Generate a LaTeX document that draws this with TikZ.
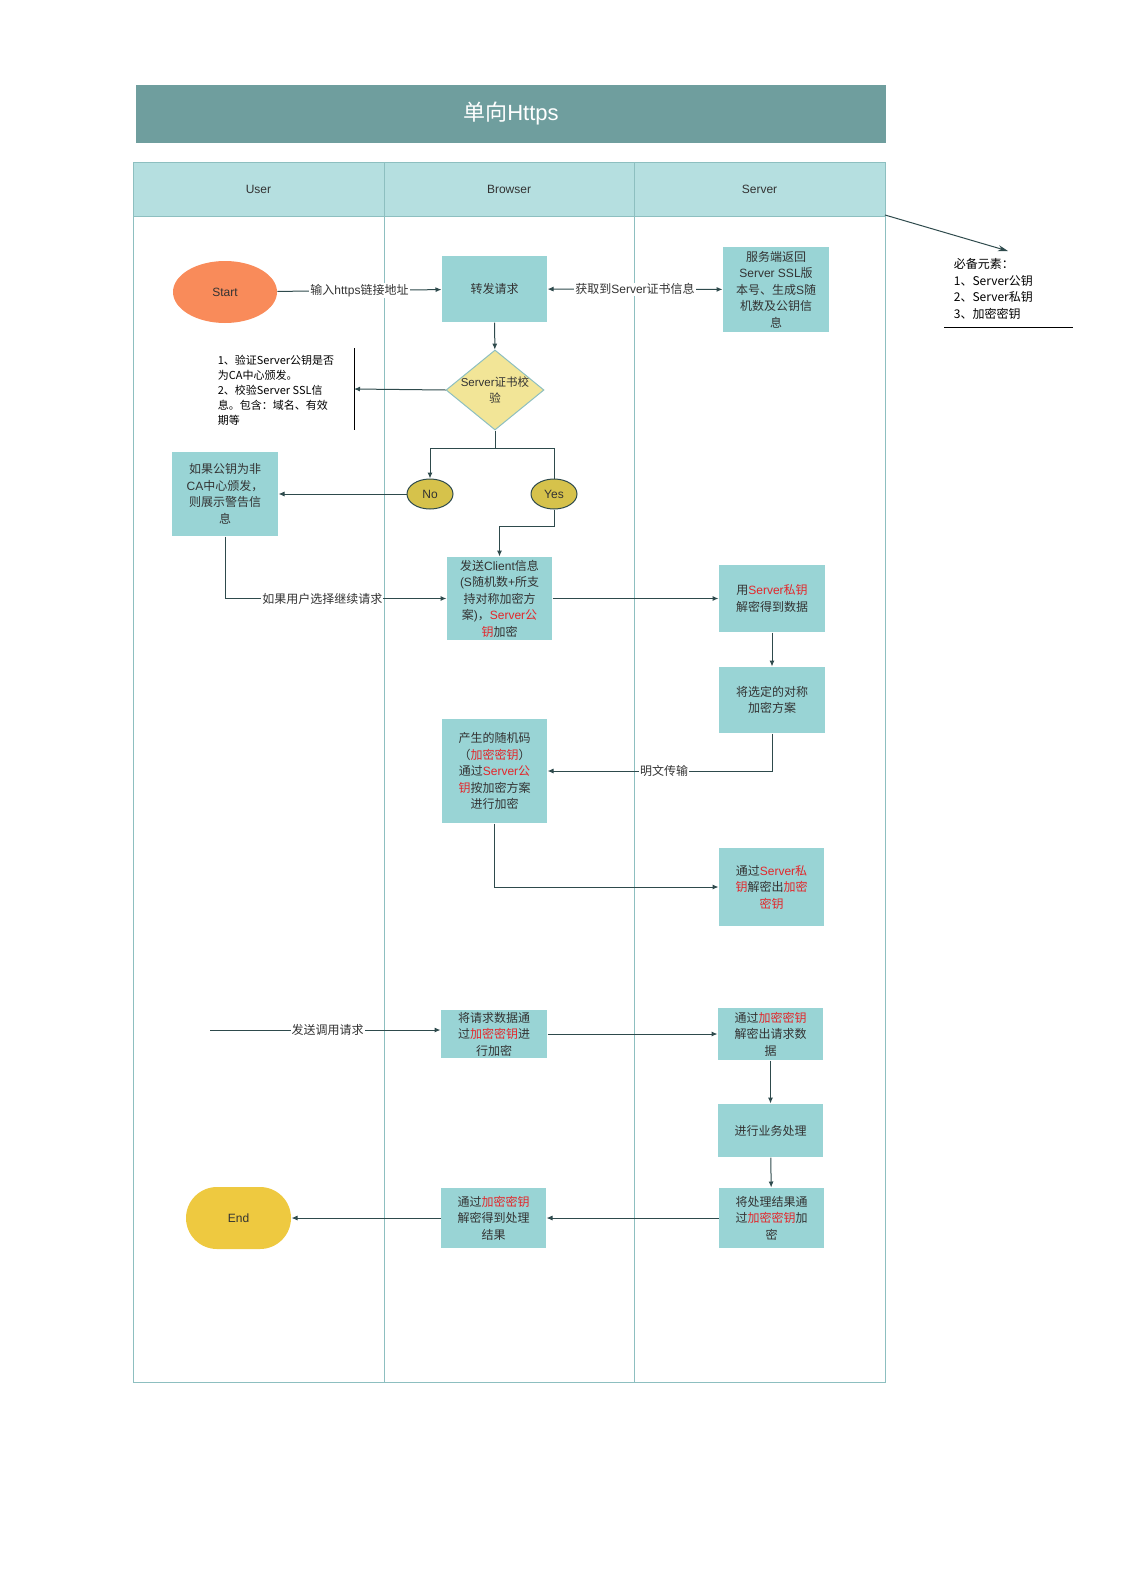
\documentclass[tikz,border=0pt]{standalone}
\usepackage{fontspec}
\setmainfont{Liberation Sans}
\newfontfamily\latinfont{Liberation Sans}
\newfontfamily\cjkfont{Noto Sans CJK SC}
\usepackage{tikz}
\usetikzlibrary{arrows.meta,positioning,shapes.geometric}
\definecolor{titlebar}{HTML}{6F9E9E}
\definecolor{lanehead}{HTML}{B5DFE0}
\definecolor{laneline}{HTML}{8DBFC0}
\definecolor{boxfill}{HTML}{99D4D5}
\definecolor{wire}{HTML}{2E4A4C}
\definecolor{txt}{HTML}{333333}
\definecolor{keyred}{HTML}{E3262A}
\definecolor{startfill}{HTML}{F98B5A}
\definecolor{endfill}{HTML}{EEC940}
\definecolor{checkfill}{HTML}{F2E597}
\definecolor{choicefill}{HTML}{D6C24B}
\newcommand{\keyhl}[1]{\textcolor{keyred}{#1}}
% switch to the CJK font for Chinese characters
\XeTeXinterchartokenstate=1
\newXeTeXintercharclass\cjkclass
\makeatletter
\count@="3000 \loop\XeTeXcharclass\count@=\cjkclass\advance\count@ 1 \ifnum\count@<"3040 \repeat
\count@="4E00 \loop\XeTeXcharclass\count@=\cjkclass\advance\count@ 1 \ifnum\count@<"A000 \repeat
\count@="FF00 \loop\XeTeXcharclass\count@=\cjkclass\advance\count@ 1 \ifnum\count@<"FFF0 \repeat
\makeatother
\XeTeXinterchartoks 0 \cjkclass = {\cjkfont}
\XeTeXinterchartoks 4095 \cjkclass = {\cjkfont}
\XeTeXinterchartoks \cjkclass 0 = {\latinfont}
\XeTeXinterchartoks 4095 0 = {\latinfont}
\newcommand{\plaincjk}{\XeTeXinterchartokenstate=0\relax\cjkfont}

\begin{document}
\begin{tikzpicture}[x=1pt,y=-1pt,>={Latex[length=6pt,width=5pt]},line width=1pt,
  font=\fontsize{12}{16.5}\selectfont,text=txt]
\tikzstyle{box}=[fill=boxfill, align=center, inner sep=1pt, minimum width=105pt]
\tikzstyle{wirec}=[draw=wire, ->]
\tikzstyle{lbl}=[fill=white, inner sep=1pt]
\tikzstyle{note}=[align=left, anchor=north west, text=black]
\useasboundingbox (0,0) rectangle (1123,1587);
% swimlanes
\fill[titlebar] (136,85) rectangle (886,143);
\node[text=white, font=\fontsize{22}{26}\selectfont] (title) at (511,114) {单向Https};
\fill[lanehead] (133,162) rectangle (885,216);
\draw[laneline] (133,162) rectangle (885,1382);
\draw[laneline] (133,216) -- (885,216);
\draw[laneline] (384,162) -- (384,1382);
\draw[laneline] (634,162) -- (634,1382);
\node (user) at (258.5,189) {User};
\node (browser) at (509,189) {Browser};
\node (server) at (759.5,189) {Server};
% nodes
\node[ellipse, fill=startfill, minimum width=104pt, minimum height=62pt] (start) at (225,292) {Start};
\node[box, minimum height=66pt] (fwd) at (494.5,289) {转发请求};
\node[box, minimum width=106pt, minimum height=85pt] (srv) at (776,289.5) {服务端返回\\Server SSL版\\本号、生成S随\\机数及公钥信\\息};
\node[diamond, draw=laneline, fill=checkfill, minimum width=98pt, minimum height=80pt, inner sep=0pt] (check) at (495,390) {};
\node[align=center, font=\fontsize{11.5}{15.5}\selectfont] at (check) {Server证书校\\验};
\node[note, font=\fontsize{11}{15}\selectfont\plaincjk] (cond) at (214,351) {1、验证Server公钥是否\\为CA中心颁发。\\2、校验Server SSL信\\息。包含：域名、有效\\期等};
\coordinate (brk) at (354,389);
\node[ellipse, draw=wire, fill=choicefill, minimum width=46pt, minimum height=30pt, inner sep=0pt] (no) at (430,494) {No};
\node[ellipse, draw=wire, fill=choicefill, minimum width=46pt, minimum height=30pt, inner sep=0pt] (yes) at (554,494) {Yes};
\node[box, minimum width=106pt, minimum height=84pt] (warn) at (225,494) {如果公钥为非\\CA中心颁发，\\则展示警告信\\息};
\node[box, minimum height=83pt] (client) at (499.5,598.5) {发送Client信息\\(S随机数+所支\\持对称加密方\\案)，\keyhl{Server公}\\\keyhl{钥}加密};
\node[box, minimum width=106pt, minimum height=67pt] (dec1) at (772,598.5) {用\keyhl{Server私钥}\\解密得到数据};
\node[box, minimum width=106pt, minimum height=66pt] (scheme) at (772,700) {将选定的对称\\加密方案};
\node[box, minimum height=104pt] (genkey) at (494.5,771) {产生的随机码\\（\keyhl{加密密钥}）\\通过\keyhl{Server公}\\\keyhl{钥}按加密方案\\进行加密};
\node[box, minimum height=78pt] (dec2) at (771.5,887) {通过\keyhl{Server私}\\\keyhl{钥}解密出\keyhl{加密}\\\keyhl{密钥}};
\coordinate (callsrc) at (210,1030);
\node[box, minimum width=106pt, minimum height=48pt] (reqenc) at (494,1034) {将请求数据通\\过\keyhl{加密密钥}进\\行加密};
\node[box, minimum height=52pt] (reqdec) at (770.5,1034) {通过\keyhl{加密密钥}\\解密出请求数\\据};
\node[box, minimum height=53pt] (biz) at (770.5,1130.5) {进行业务处理};
\node[box, minimum height=60pt] (resenc) at (771.5,1218) {将处理结果通\\过\keyhl{加密密钥}加\\密};
\node[box, minimum height=60pt] (resdec) at (493.5,1218) {通过\keyhl{加密密钥}\\解密得到处理\\结果};
\node[fill=endfill, rounded corners=31pt, minimum width=105pt, minimum height=62pt] (end) at (238.5,1218) {End};
\coordinate (corner) at (885,215);
\node[note, font=\fontsize{12}{16.5}\selectfont\plaincjk] (need) at (950,255) {必备元素：\\1、Server公钥\\2、Server私钥\\3、加密密钥};
% connectors
\draw[wirec] (start) -- node[lbl]{输入https链接地址} (fwd);
\draw[draw=wire, <->] (fwd) -- node[lbl]{获取到Server证书信息} (srv);
\draw[wirec] (fwd) -- (check);
\draw[black] (354,348) -- (354,430);
\draw[wirec] (check.west) -- (brk);
\draw[wirec] (check.south) -- ++(0,18) -| (no.north);
\draw[draw=wire] (check.south) ++(0,18) -| (yes.north);
\draw[wirec] (no) -- (warn);
\draw[wirec] (yes.south) -- ++(0,17) -| (client.north);
\draw[wirec] (warn.south) |- node[lbl, pos=0.72]{如果用户选择继续请求} (client.west);
\draw[wirec] (client) -- (dec1);
\draw[wirec] (dec1) -- (scheme);
\draw[wirec] (scheme.south) |- node[lbl, pos=0.74]{明文传输} (genkey.east);
\draw[wirec] (genkey.south) |- (dec2.west);
\draw[wirec] (callsrc) -- node[lbl, pos=0.51]{发送调用请求} (callsrc -| reqenc.west);
\draw[wirec] (reqenc) -- (reqdec);
\draw[wirec] (reqdec) -- (biz);
\draw[wirec] (biz) -- (resenc);
\draw[wirec] (resenc) -- (resdec);
\draw[wirec] (resdec) -- (end);
\draw[draw=wire, -{Stealth[length=10pt,width=6pt]}] (corner) -- (1008,251);
\draw[black] (944,327) -- (1073,327);
\end{tikzpicture}
\end{document}
